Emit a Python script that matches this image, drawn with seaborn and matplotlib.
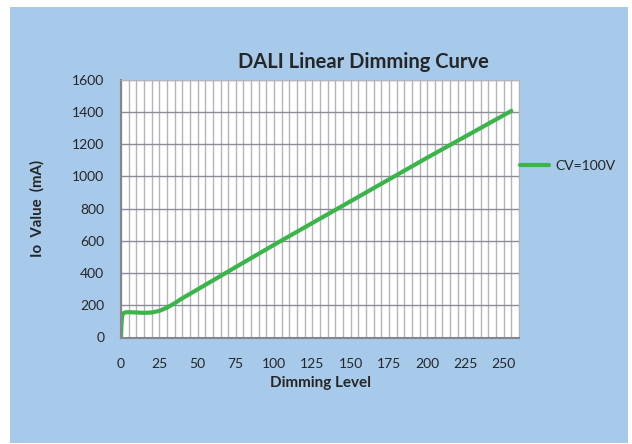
import matplotlib
matplotlib.use('Agg')
import matplotlib.pyplot as plt
from matplotlib.patches import Rectangle
import seaborn as sns
import pandas as pd

# dimming curve
level = [0, 0.3, 0.7, 1, 2, 3, 5, 10, 15, 20, 25, 30, 35, 40, 50, 75, 100, 150, 200, 255]
io_ma = [0, 80, 130, 145, 153, 156, 157, 155, 153, 155, 165, 185, 212, 243, 298, 437, 575, 845, 1115, 1405]
series = 'CV=100V'

df = pd.DataFrame({'Dimming Level': level, 'Io': io_ma, 'curve': series})

sns.set_style('white')
plt.rcParams['font.family'] = ['Lato', 'DejaVu Sans']

fig = plt.figure(figsize=(6.32, 4.44), dpi=100, facecolor='white')
fig.patches.append(Rectangle((10 / 632, 1 - 443 / 444), 618 / 632, 436 / 444,
                             transform=fig.transFigure, facecolor='#A7CAEA',
                             edgecolor='none', zorder=-5))
ax = fig.add_axes([121 / 632, 1 - 337.5 / 444, 398 / 632, 258 / 444])
ax.set_facecolor('white')

sns.lineplot(data=df, x='Dimming Level', y='Io', hue='curve', palette=['#3BB54A'],
             linewidth=3, ax=ax, estimator=None, sort=False)

ax.set_xlim(0, 260)
ax.set_ylim(0, 1600)
ax.set_xticks(range(0, 251, 25))
ax.set_xticks(range(0, 261, 5), minor=True)
ax.set_yticks(range(0, 1601, 200))
ax.grid(which='both', axis='x', color='#B4B4BC', linewidth=1)
ax.grid(which='major', axis='y', color='#8C8C94', linewidth=1)
ax.set_axisbelow(True)
for s in ['top', 'right']:
    ax.spines[s].set_color('#B4B4BC')
for s in ['left', 'bottom']:
    ax.spines[s].set_color('#85858D')
    ax.spines[s].set_linewidth(1.5)
ax.tick_params(axis='both', which='major', labelsize=10, length=4, color='#85858D',
               direction='out', pad=11)
ax.tick_params(axis='x', which='minor', length=0)
ax.tick_params(axis='y', pad=8)

ax.set_xlabel('Dimming Level', fontsize=11, fontweight='bold', labelpad=4)
ax.set_ylabel('Io  Value  (mA)', fontsize=10.8, fontweight='bold', labelpad=20)
fig.text(363 / 632, 1 - 62 / 444, 'DALI Linear Dimming Curve', fontsize=14.5,
         fontweight='bold', ha='center', va='center')

ax.legend(loc='center left', bbox_to_anchor=(0.97, 0.665), frameon=False,
          fontsize=10, handlelength=2.1, handletextpad=0.45)

fig.savefig('out.png', dpi=100, facecolor='white')
